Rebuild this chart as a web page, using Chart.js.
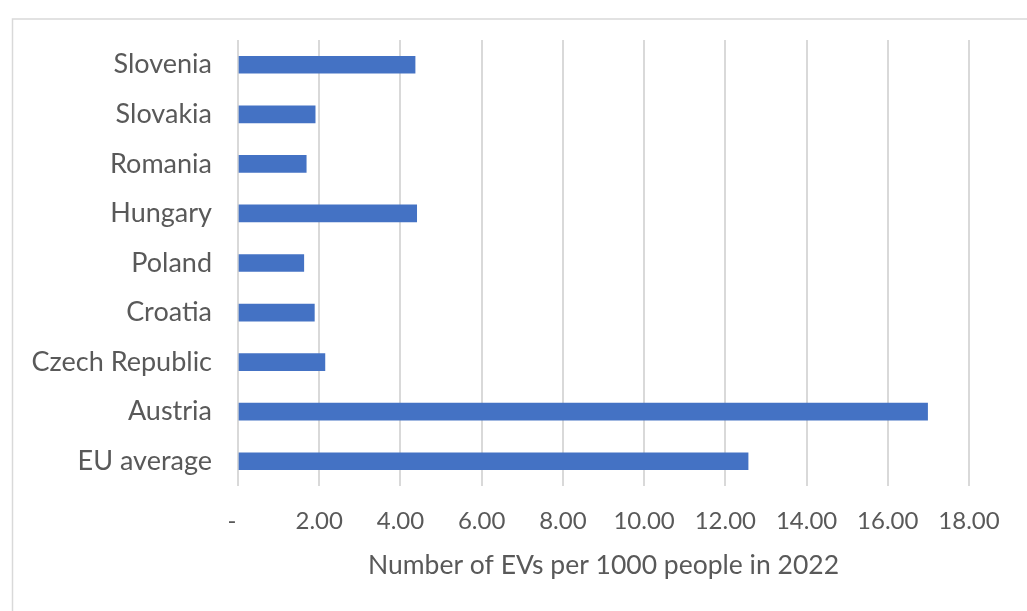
<!DOCTYPE html>
<html>
<head>
<meta charset="utf-8">
<script src="https://cdn.jsdelivr.net/npm/chart.js@4/dist/chart.umd.min.js"></script>
<style>
  html, body { margin: 0; padding: 0; background: #ffffff; }
  #wrap { width: 1027px; height: 611px; position: relative; }
</style>
</head>
<body>
<div id="wrap"><canvas id="c" width="1027" height="611"></canvas></div>
<script>
// EVs per 1000 inhabitants, 2022 (listed top to bottom)
const countries = ['Slovenia', 'Slovakia', 'Romania', 'Hungary', 'Poland', 'Croatia', 'Czech Republic', 'Austria', 'EU average'];
const evsPer1000 = [4.36, 1.90, 1.68, 4.40, 1.62, 1.88, 2.14, 16.98, 12.56];
const xTicks = [0, 2, 4, 6, 8, 10, 12, 14, 16, 18];
const xTitle = 'Number of EVs per 1000 people in 2022';

const textColor = '#595959';
const gridColor = '#d9d9d9';
const fontFamily = 'Lato, "Open Sans", "DejaVu Sans", sans-serif';

// light frame around the whole chart
const framePlugin = {
  id: 'frame',
  beforeDraw(chart) {
    const ctx = chart.ctx;
    ctx.save();
    ctx.fillStyle = '#ffffff';
    ctx.fillRect(0, 0, chart.width, chart.height);
    ctx.strokeStyle = gridColor;
    ctx.lineWidth = 1.5;
    ctx.strokeRect(12.5, 19, chart.width + 20, chart.height + 20);
    ctx.restore();
  }
};

new Chart(document.getElementById('c'), {
  type: 'bar',
  data: {
    labels: countries,
    datasets: [{
      data: evsPer1000,
      backgroundColor: '#4472c4',
      borderWidth: 0,
      barThickness: 17
    }]
  },
  options: {
    indexAxis: 'y',
    responsive: false,
    animation: false,
    layout: { padding: { top: 40, right: 58, bottom: 30, left: 0 } },
    plugins: {
      legend: { display: false },
      tooltip: { enabled: false }
    },
    scales: {
      x: {
        min: 0,
        max: 18,
        afterBuildTicks(scale) { scale.ticks = xTicks.map(v => ({ value: v })); },
        afterFit(scale) { scale.height = 95; },
        border: { display: false },
        grid: { color: gridColor, lineWidth: 2, drawTicks: false },
        ticks: {
          color: textColor,
          font: { family: fontFamily, size: 24 },
          padding: 21,
          maxRotation: 0,
          callback: v => v === 0 ? '-  ' : v.toFixed(2)
        },
        title: {
          display: true,
          text: xTitle,
          color: textColor,
          font: { family: fontFamily, size: 26.5 },
          padding: { top: 0, bottom: 0 }
        }
      },
      y: {
        afterFit(scale) { scale.width = 238; },
        border: { display: false },
        grid: { display: false },
        ticks: {
          color: textColor,
          font: { family: fontFamily, size: 27 },
          padding: 18
        }
      }
    }
  },
  plugins: [framePlugin]
});
</script>
</body>
</html>
